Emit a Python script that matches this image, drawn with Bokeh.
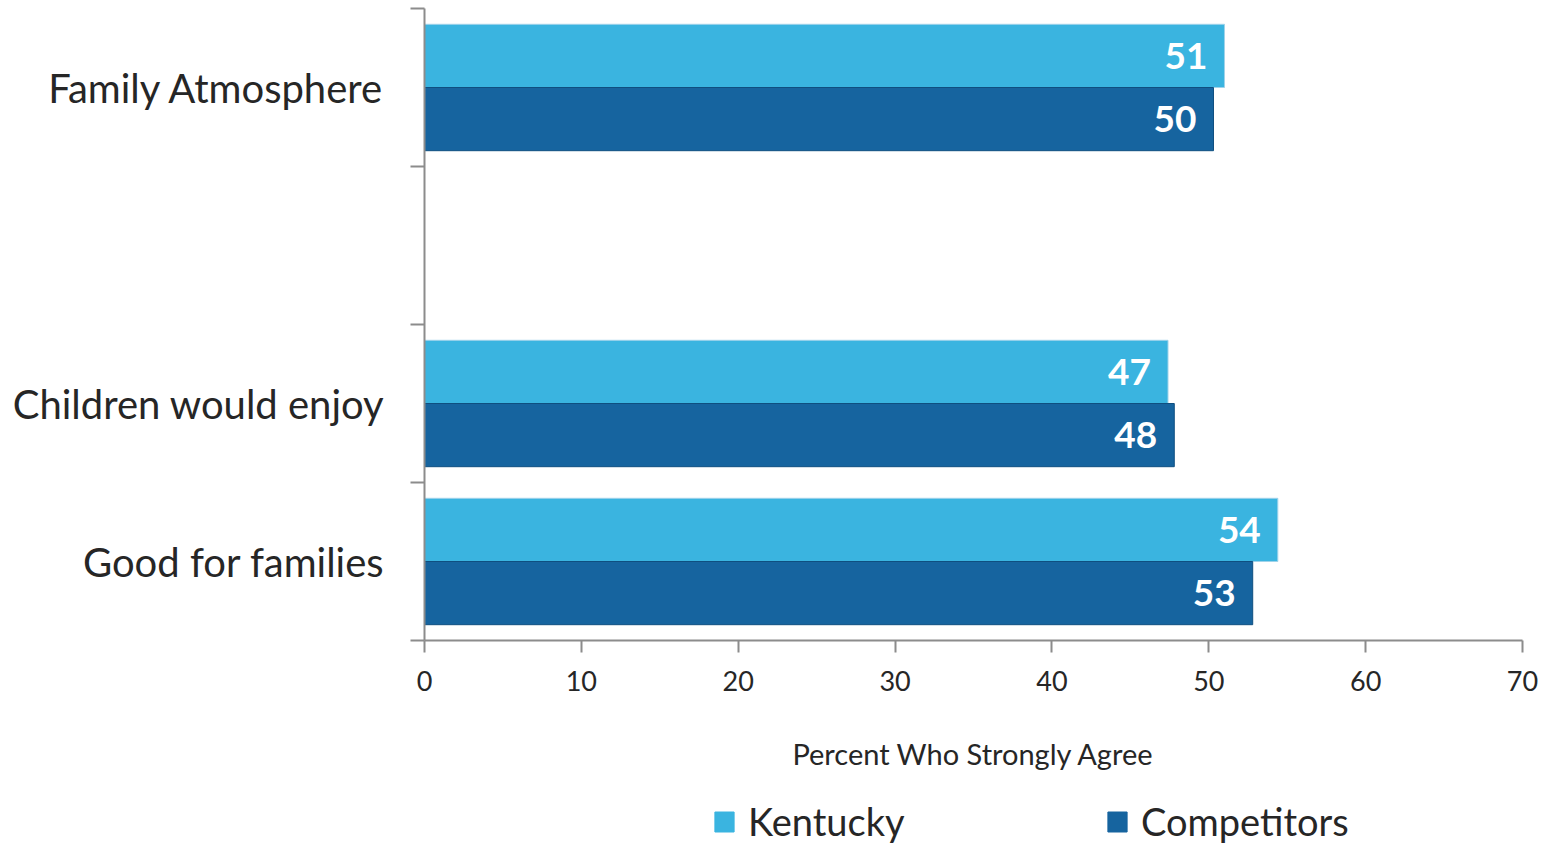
from bokeh.plotting import figure
from bokeh.layouts import column
from bokeh.models import (Range1d, FixedTicker, ColumnDataSource, Legend, LegendItem)
from bokeh.core.properties import value
from bokeh.embed import file_html
from bokeh.resources import INLINE

# ---- data ----
categories = ["Family Atmosphere", "", "Children would enjoy", "Good for families"]
kentucky = [51.0, None, 47.4, 54.4]
competitors = [50.3, None, 47.8, 52.8]
series_names = ["Kentucky", "Competitors"]
x_ticks = [0, 10, 20, 30, 40, 50, 60, 70]
x_title = "Percent Who Strongly Agree"

C_KY = "#3AB4E0"
C_CO = "#16649F"
FONT = "Lato"
TXT = "#262626"
AX = "#8c8c8c"

n = len(categories)
centers = [n - i - 0.5 for i in range(n)]

def build(vals, off):
    ys, xs, labs = [], [], []
    for c, v in zip(centers, vals):
        if v is None:
            continue
        ys.append(c + off)
        xs.append(v)
        labs.append(str(int(round(v))))
    return ColumnDataSource(dict(y=ys, x=xs, lab=labs))

src_k = build(kentucky, 0.2)
src_c = build(competitors, -0.2)

p = figure(width=1545, height=773, output_backend="svg", toolbar_location=None,
           x_range=Range1d(x_ticks[0], x_ticks[-1]), y_range=Range1d(0, n),
           min_border_left=424, min_border_right=23, min_border_top=8,
           min_border_bottom=133)
p.outline_line_color = None
p.xgrid.visible = False
p.ygrid.visible = False

p.hbar(y="y", right="x", left=0, height=0.4, source=src_k,
       fill_color=C_KY, line_color="#9fd3ea", line_width=1)
p.hbar(y="y", right="x", left=0, height=0.4, source=src_c,
       fill_color=C_CO, line_color="#0f4f80", line_width=1)

for s in (src_k, src_c):
    p.text(x="x", y="y", text="lab", source=s, text_align="right",
           text_baseline="middle", x_offset=-17, text_color="white",
           text_font=value(FONT), text_font_style="bold", text_font_size="37px")

# y axis: labels at centers, ticks at category boundaries
ya = p.yaxis[0]
ya.ticker = FixedTicker(ticks=[c for c, cat in zip(centers, categories) if cat],
                        minor_ticks=[float(i) for i in range(n + 1)])
ya.major_label_overrides = {c: cat for c, cat in zip(centers, categories) if cat}
ya.major_tick_out = 0
ya.major_tick_in = 0
ya.minor_tick_out = 14
ya.minor_tick_in = 0
ya.minor_tick_line_color = AX
ya.minor_tick_line_width = 2
ya.axis_line_color = AX
ya.axis_line_width = 2
ya.major_label_standoff = 26
ya.major_label_text_font = FONT
ya.major_label_text_font_size = "40px"
ya.major_label_text_color = TXT

xa = p.xaxis[0]
xa.ticker = FixedTicker(ticks=x_ticks)
xa.minor_tick_line_color = None
xa.major_tick_out = 12
xa.major_tick_in = 0
xa.major_tick_line_color = AX
xa.major_tick_line_width = 2
xa.axis_line_color = AX
xa.axis_line_width = 2
xa.major_label_standoff = 18
xa.major_label_text_font = FONT
xa.major_label_text_font_size = "27px"
xa.major_label_text_color = TXT
xa.axis_label = x_title
xa.axis_label_standoff = 42
xa.axis_label_text_font = FONT
xa.axis_label_text_font_size = "29px"
xa.axis_label_text_font_style = "normal"
xa.axis_label_text_color = TXT

# ---- legend strip (its frame is aligned with the main frame by the column) ----
lg = figure(width=1545, height=71, output_backend="svg", toolbar_location=None,
            x_range=Range1d(0, 1), y_range=Range1d(0, 1),
            x_axis_location=None, y_axis_location=None,
            min_border_left=0, min_border_right=0, min_border_top=0, min_border_bottom=0)
lg.outline_line_color = None
lg.xgrid.visible = False
lg.ygrid.visible = False
# swatch-only renderers, kept outside the visible range
lk = lg.hbar(y=[-5], right=[-5], left=[-6], height=1, fill_color=C_KY, line_color=C_KY)
lc = lg.hbar(y=[-5], right=[-5], left=[-6], height=1, fill_color=C_CO, line_color=C_CO)

legend = Legend(items=[LegendItem(label=series_names[0], renderers=[lk]),
                       LegendItem(label=series_names[1], renderers=[lc])],
                orientation="horizontal", location=(288, 0),
                padding=0, margin=0, spacing=0, border_line_color=None,
                background_fill_alpha=0, glyph_width=24, glyph_height=25,
                label_standoff=12, label_width=357,
                label_text_font=FONT, label_text_font_size="38px",
                label_text_color=TXT)
lg.add_layout(legend, "center")

open("out.html", "w").write(file_html(column(p, lg, spacing=0), INLINE))
